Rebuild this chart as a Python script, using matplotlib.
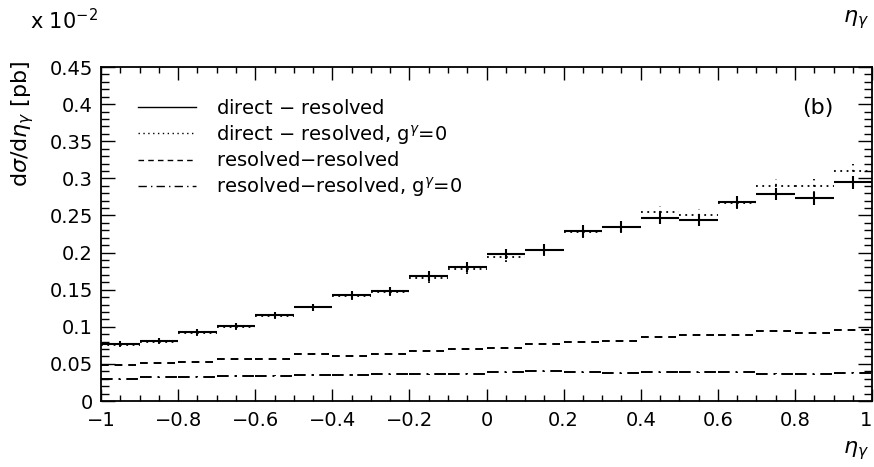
import numpy as np
import matplotlib
matplotlib.use("Agg")
import matplotlib.pyplot as plt
from matplotlib.lines import Line2D
from matplotlib.ticker import MultipleLocator

plt.rcParams['font.family'] = ['DejaVu Sans']
plt.rcParams['mathtext.fontset'] = 'dejavusans'

# bin edges in eta_gamma, 20 bins of 0.1
edges = np.linspace(-1.0, 1.0, 21)

# cross sections in units of 10^-2 pb
dir_res = [0.077, 0.081, 0.093, 0.101, 0.116, 0.126, 0.143, 0.148, 0.168, 0.180,
           0.198, 0.204, 0.229, 0.235, 0.246, 0.244, 0.268, 0.279, 0.273, 0.295]
dir_res_err = [0.0034, 0.0035, 0.0040, 0.0042, 0.0046, 0.0050, 0.0055, 0.0058, 0.0066, 0.0068,
               0.0070, 0.0072, 0.0076, 0.0078, 0.0080, 0.0082, 0.0085, 0.0086, 0.0086, 0.0088]
dir_res_g0 = [0.076, 0.080, 0.092, 0.100, 0.115, 0.126, 0.141, 0.147, 0.166, 0.178,
              0.194, 0.203, 0.228, 0.234, 0.254, 0.250, 0.267, 0.290, 0.290, 0.310]
dir_res_g0_err = [0.0034, 0.0035, 0.0040, 0.0042, 0.0046, 0.0050, 0.0055, 0.0058, 0.0066, 0.0068,
                  0.0072, 0.0074, 0.0078, 0.0080, 0.0085, 0.0086, 0.0088, 0.0090, 0.0092, 0.0094]
res_res = [0.0485, 0.051, 0.0525, 0.056, 0.057, 0.063, 0.061, 0.064, 0.068, 0.0705,
           0.072, 0.077, 0.079, 0.081, 0.086, 0.089, 0.089, 0.094, 0.0915, 0.096]
res_res_g0 = [0.029, 0.032, 0.0325, 0.0337, 0.034, 0.035, 0.035, 0.036, 0.036, 0.0366,
              0.0387, 0.040, 0.0387, 0.0373, 0.0387, 0.0387, 0.0387, 0.037, 0.036, 0.038]

labels = ['direct $-$ resolved', r'direct $-$ resolved, g$^\gamma$=0',
          'resolved$-$resolved', r'resolved$-$resolved, g$^\gamma$=0']

lo = edges[:-1]
hi = edges[1:]
mid = 0.5 * (lo + hi)

fig = plt.figure(figsize=(8.74, 4.67), dpi=100)
ax = fig.add_axes([0.1156, 0.1413, 0.8822, 0.7152])

dotted = (0, (1, 2.5))
dashed = (0, (4, 3))
dashdot = (0, (6, 3, 1, 3))

# dotted (g=0) underneath, solid on top
v = np.array(dir_res_g0); e = np.array(dir_res_g0_err)
ax.hlines(v, lo, hi, colors='k', linestyles=[dotted], lw=1.3)
ax.vlines(mid, v - e, v + e, colors='k', linestyles=[dotted], lw=1.3)

v = np.array(dir_res); e = np.array(dir_res_err)
ax.hlines(v, lo, hi, colors='k', lw=1.5)
ax.vlines(mid, v - e, v + e, colors='k', lw=1.5)

v = np.array(res_res)
ax.hlines(v, lo, hi, colors='k', linestyles=[dashed], lw=1.4)
ax.vlines(mid, v - 0.0012, v + 0.0012, colors='k', lw=1.3)

v = np.array(res_res_g0)
ax.hlines(v, lo, hi, colors='k', linestyles=[dashdot], lw=1.4)
ax.vlines(mid, v - 0.0008, v + 0.0008, colors='k', lw=1.3)

ax.set_xlim(-1, 1)
ax.set_ylim(0, 0.45)
ax.xaxis.set_minor_locator(MultipleLocator(0.05))
ax.yaxis.set_minor_locator(MultipleLocator(0.01))
ax.set_xticks(np.arange(-1, 1.01, 0.2))
ax.set_xticklabels(['\u22121', '\u22120.8', '\u22120.6', '\u22120.4', '\u22120.2', '0',
                    '0.2', '0.4', '0.6', '0.8', '1'])
ax.set_yticks(np.arange(0, 0.451, 0.05))
ax.set_yticklabels(['0', '0.05', '0.1', '0.15', '0.2', '0.25', '0.3', '0.35', '0.4', '0.45'])
ax.tick_params(axis='both', which='both', direction='in', top=True, right=True,
               labelsize=14, width=1.0)
ax.tick_params(axis='x', which='major', length=9, pad=7)
ax.tick_params(axis='x', which='minor', length=4)
ax.tick_params(axis='y', which='major', length=10, pad=6)
ax.tick_params(axis='y', which='minor', length=5.5)
ax.get_xticklabels()[-1].set_horizontalalignment('right')
for s in ax.spines.values():
    s.set_linewidth(1.3)

handles = [Line2D([], [], color='k', lw=1.0),
           Line2D([], [], color='k', lw=1.0, linestyle=dotted),
           Line2D([], [], color='k', lw=1.0, linestyle=dashed),
           Line2D([], [], color='k', lw=1.0, linestyle=dashdot)]
ax.legend(handles, labels, loc='upper left', bbox_to_anchor=(0.048, 0.905),
          frameon=False, fontsize=14, handlelength=3.0, handletextpad=1.0,
          labelspacing=0.25, borderpad=0, borderaxespad=0)

ax.text(0.86, 0.395, '(b)', fontsize=16, ha='center', va='center')

fig.text(0.034, 0.955, r'x 10$^{-2}$', fontsize=15, ha='left', va='center')
fig.text(0.026, 0.735, r'd$\sigma$/d$\eta_\gamma$ [pb]', fontsize=16, rotation=90,
         ha='center', va='center')
fig.text(0.979, 0.958, r'$\eta_\gamma$', fontsize=16, ha='center', va='center')
fig.text(0.979, 0.035, r'$\eta_\gamma$', fontsize=16, ha='center', va='center')

fig.savefig('out.png', dpi=100)
